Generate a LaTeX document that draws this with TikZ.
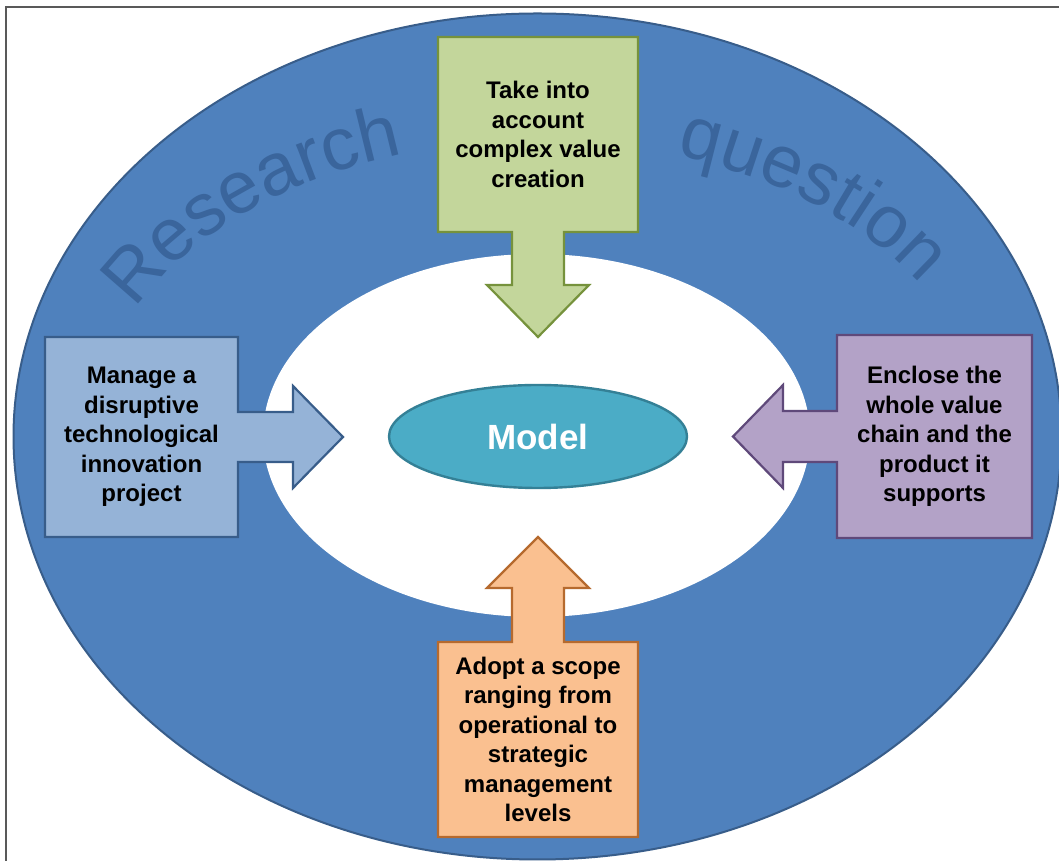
\documentclass[tikz,border=0pt]{standalone}
\usepackage{fontspec}
\setmainfont{Liberation Sans}
\newfontfamily\ringfont{Liberation Sans}
\usepackage{xcolor}
\usetikzlibrary{shapes.geometric, decorations.text}

\definecolor{framegray}{RGB}{89,89,89}
\definecolor{ringfill}{RGB}{79,129,189}
\definecolor{ringline}{RGB}{56,93,138}
\definecolor{ringtext}{RGB}{58,101,156}
\definecolor{modelfill}{RGB}{75,172,198}
\definecolor{modelline}{RGB}{52,128,150}
\definecolor{greenfill}{RGB}{195,214,155}
\definecolor{greenline}{RGB}{118,146,60}
\definecolor{bluefill}{RGB}{149,179,215}
\definecolor{blueline}{RGB}{56,93,138}
\definecolor{purplefill}{RGB}{179,162,199}
\definecolor{purpleline}{RGB}{95,73,122}
\definecolor{orangefill}{RGB}{250,192,144}
\definecolor{orangeline}{RGB}{182,106,46}

\begin{document}
\begin{tikzpicture}[
    x=1pt, y=1pt,
    callout/.style={line width=2.2pt, line join=miter},
    card/.style={align=center, text=black, inner sep=0pt, font=\fontsize{24}{29.5}\selectfont\bfseries},
    model/.style={ellipse, draw=modelline, fill=modelfill, line width=2.4pt, minimum width=298pt, minimum height=103pt, inner sep=0pt, text=white, font=\fontsize{35}{40}\selectfont\bfseries},
    ringword/.style={decorate, decoration={text along path, text align=center, text={|\ringfont\fontsize{74}{80}\selectfont\color{ringtext}|#1}}},
]
\useasboundingbox (0,0) rectangle (1059,861);
\clip (0,0) rectangle (1059,861);
\fill[white] (0,0) rectangle (1059,861);
\draw[framegray, line width=2pt] (6,854) rectangle (1080,-20);

\draw[fill=ringfill, draw=ringline, line width=2pt] (537.5,424.5) ellipse [x radius=524, y radius=423];
\fill[white] (536.5,425.5) ellipse [x radius=273.5, y radius=181.5];

\path[ringword=Research] (537.5,424.5) ++(162:446 and 296) arc[start angle=162, end angle=102, x radius=446, y radius=296];
\path[ringword=question] (537.5,424.5) ++(80:446 and 296) arc[start angle=80, end angle=20, x radius=446, y radius=296];

\draw[callout, fill=greenfill, draw=greenline] (438,824) -- (638,824) -- (638,629) -- (564,629) -- (564,576) -- (589,576) -- (538,524) -- (487,576) -- (512,576) -- (512,629) -- (438,629) -- cycle;
\draw[callout, fill=bluefill, draw=blueline] (45,524) -- (238,524) -- (238,449) -- (293,449) -- (293,475) -- (343,424) -- (293,373) -- (293,399) -- (238,399) -- (238,324) -- (45,324) -- cycle;
\draw[callout, fill=purplefill, draw=purpleline] (1032,526) -- (837,526) -- (837,450) -- (783,450) -- (783,476) -- (733,424.5) -- (783,373) -- (783,399) -- (837,399) -- (837,323) -- (1032,323) -- cycle;
\draw[callout, fill=orangefill, draw=orangeline] (438,24) -- (638,24) -- (638,219) -- (564,219) -- (564,273) -- (589,273) -- (538,324) -- (487,273) -- (512,273) -- (512,219) -- (438,219) -- cycle;

\node[model] (model) at (538,424.5) {Model};
\node[card] (value) at (538,726.5) {Take into\\account\\complex value\\creation};
\node[card] (manage) at (141.5,424) {Manage a\\disruptive\\technological\\innovation\\project};
\node[card] (chain) at (934.5,424.5) {Enclose the\\whole value\\chain and the\\product it\\supports};
\node[card] (scope) at (538,121.5) {Adopt a scope\\ranging from\\operational to\\strategic\\management\\levels};

\end{tikzpicture}
\end{document}
